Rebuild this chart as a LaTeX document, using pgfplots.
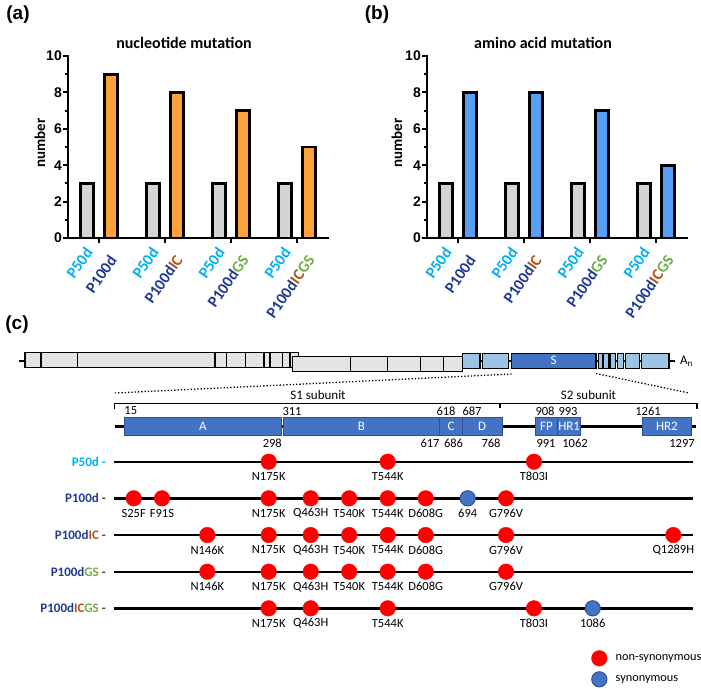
\documentclass[border=0pt]{standalone}
\usepackage{pgfplots}
\pgfplotsset{compat=1.18}
\usepackage{fontspec}
\setmainfont{Carlito}
\newfontfamily\arialfont{Liberation Sans}
\definecolor{lblue}{HTML}{00B0F0}
\definecolor{dblue}{HTML}{1F3A93}
\definecolor{brownc}{HTML}{B0531E}
\definecolor{greenc}{HTML}{70AD47}
\definecolor{barorange}{HTML}{FCA13C}
\definecolor{barblue}{HTML}{569EF8}
\definecolor{bargray}{HTML}{D4D4D4}
\definecolor{segray}{HTML}{E4E4E4}
\definecolor{sblue}{HTML}{4472C4}
\definecolor{lsblue}{HTML}{9DC3E6}
\definecolor{sbord}{HTML}{2F528F}
\definecolor{mutred}{HTML}{FF0000}
\newcommand{\fs}[1]{\fontsize{#1}{#1}\selectfont}
\pgfplotsset{
  barax/.style={
    scale only axis, width=260pt, height=182pt, anchor=south west,
    xmin=-0.47, xmax=3.47, ymin=0, ymax=10,
    axis lines=left, axis line style={-, line width=2.5pt, line cap=rect},
    xtick={0,1,2,3}, xticklabels={},
    ytick={0,2,...,10}, minor y tick num=1,
    tick align=outside, major tick length=5pt, minor tick length=3.5pt,
    tick style={black, line width=2pt},
    yticklabel style={font=\arialfont\bfseries\fs{14}, inner sep=1pt},
    /pgf/number format/assume math mode=true,
    clip=false,
  },
  barst/.style={ybar, bar width=13.5pt, draw=black, line width=2.7pt, line join=miter},
}
\tikzset{xlab/.style={rotate=55, anchor=east, font=\bfseries\fs{16}, inner sep=0pt}}
\newcommand{\glab}[3]{%
  \node[xlab, text=lblue] at ([shift={(2pt,-11pt)}]axis cs:#1,0) {P50d};
  \node[xlab] at ([shift={(2pt,-19pt)}]axis cs:#2,0) {#3};}
\newcommand{\vd}[3]{\draw[line width=1.3pt] (#1,#2) -- (#1,#3);}
\begin{document}
\begin{tikzpicture}
\useasboundingbox (0pt,0pt) rectangle (701pt,-688pt);
% panel labels and titles
\node[font=\arialfont\bfseries\fs{19}] at (18pt,-15pt) {(a)};
\node[font=\arialfont\bfseries\fs{19}] at (377pt,-15pt) {(b)};
\node[font=\arialfont\bfseries\fs{19}] at (17pt,-325pt) {(c)};
\node[font=\bfseries\fs{16}] at (184pt,-43pt) {nucleotide mutation};
\node[font=\bfseries\fs{16}] at (543pt,-43pt) {amino acid mutation};
\node[font=\bfseries\fs{15}, rotate=90] at (40pt,-143pt) {number};
\node[font=\bfseries\fs{15}, rotate=90] at (397pt,-143pt) {number};
% (a)
\begin{axis}[barax, at={(68pt,-238pt)}]
\addplot[barst, bar shift=-12pt, fill=bargray] coordinates {(0,3) (1,3) (2,3) (3,3)};
\addplot[barst, bar shift=12pt, fill=barorange] coordinates {(0,9) (1,8) (2,7) (3,5)};
\glab{-0.1818}{0.1818}{\textcolor{dblue}{P100d}}
\glab{0.8182}{1.1818}{\textcolor{dblue}{P100d}\textcolor{brownc}{IC}}
\glab{1.8182}{2.1818}{\textcolor{dblue}{P100d}\textcolor{greenc}{GS}}
\glab{2.8182}{3.1818}{\textcolor{dblue}{P100d}\textcolor{brownc}{IC}\textcolor{greenc}{GS}}
\end{axis}
% (b)
\begin{axis}[barax, at={(427pt,-238pt)}]
\addplot[barst, bar shift=-12pt, fill=bargray] coordinates {(0,3) (1,3) (2,3) (3,3)};
\addplot[barst, bar shift=12pt, fill=barblue] coordinates {(0,8) (1,8) (2,7) (3,4)};
\glab{-0.1818}{0.1818}{\textcolor{dblue}{P100d}}
\glab{0.8182}{1.1818}{\textcolor{dblue}{P100d}\textcolor{brownc}{IC}}
\glab{1.8182}{2.1818}{\textcolor{dblue}{P100d}\textcolor{greenc}{GS}}
\glab{2.8182}{3.1818}{\textcolor{dblue}{P100d}\textcolor{brownc}{IC}\textcolor{greenc}{GS}}
\end{axis}
% (c)
\begin{axis}[at={(0pt,-688pt)}, anchor=south west, scale only axis, width=701pt, height=688pt,
  xmin=0, xmax=701, ymin=0, ymax=688, y dir=reverse, hide axis, clip=false]
% genome
\draw[line width=2pt] (19,360.5) -- (675,360.5);
\draw[fill=segray, line width=1.3pt] (25,352.3) rectangle (298.3,367.3);
\vd{41}{352.3}{367.3}\vd{77.3}{352.3}{367.3}\vd{215}{352.3}{367.3}\vd{226.7}{352.3}{367.3}
\vd{245.7}{352.3}{367.3}\vd{264}{352.3}{367.3}\vd{270}{352.3}{367.3}\vd{282.7}{352.3}{367.3}\vd{290}{352.3}{367.3}
\draw[fill=segray, line width=1.3pt] (292.7,356.7) rectangle (462.3,371.7);
\vd{350.5}{356.7}{371.7}\vd{387.7}{356.7}{371.7}\vd{420.7}{356.7}{371.7}\vd{443.3}{356.7}{371.7}
\draw[fill=lsblue, line width=1.3pt] (462.3,353.3) rectangle (480,368.3);
\draw[fill=lsblue, line width=1.3pt] (482.3,353.3) rectangle (508.7,368.3);
\draw[fill=sblue, line width=1.3pt] (511.3,353.3) rectangle (596,368.3);
\node[text=white, font=\fs{13}] at (553.6,360.8) {S};
\draw[fill=lsblue, line width=1.3pt] (598.3,353.3) rectangle (602.3,368.3);
\draw[fill=lsblue, line width=1.3pt] (603.3,353.3) rectangle (608.3,368.3);
\draw[fill=lsblue, line width=1.3pt] (610,353.3) rectangle (615.7,368.3);
\draw[fill=lsblue, line width=1.3pt] (617.7,353.3) rectangle (623.3,368.3);
\draw[fill=lsblue, line width=1.3pt] (625.7,353.3) rectangle (639.3,368.3);
\draw[fill=lsblue, line width=1.3pt] (641.7,353.3) rectangle (669,368.3);
\node[anchor=west, font=\fs{13}, inner sep=0pt] at (680,361) {A\textsubscript{n}};
% zoom lines
\draw[dotted, line width=1.3pt] (511.7,374) -- (115,393);
\draw[dotted, line width=1.3pt] (596,373.5) -- (689,393);
% bracket
\draw[line width=1.4pt] (114.6,409) -- (114.6,403.5) -- (697,403.5) -- (697,409);
\draw[line width=1.4pt] (500,403.5) -- (500,408);
\node[font=\fs{13}] at (318,395) {S1 subunit};
\node[font=\fs{13}] at (588.5,395) {S2 subunit};
% domains
\draw[line width=3pt] (114.6,426.5) -- (696,426.5);
\draw[fill=sblue, draw=sbord, line width=0.8pt] (124.2,417.3) rectangle (281.5,435.7);
\draw[fill=sblue, draw=sbord, line width=0.8pt] (283.5,417.3) rectangle (439.6,435.7);
\draw[fill=sblue, draw=sbord, line width=0.8pt] (439.6,417.3) rectangle (462.3,435.7);
\draw[fill=sblue, draw=sbord, line width=0.8pt] (462.3,417.3) rectangle (502,435.7);
\draw[fill=sblue, draw=sbord, line width=0.8pt] (535.8,417.3) rectangle (557,435.7);
\draw[fill=sblue, draw=sbord, line width=0.8pt] (557.7,417.3) rectangle (580.8,435.7);
\draw[fill=sblue, draw=sbord, line width=0.8pt] (642.3,417.3) rectangle (691.5,435.7);
\begin{scope}[every node/.style={text=white, font=\fs{13}}]
\node at (202.8,426.5) {A};
\node at (361.5,426.5) {B};
\node at (451,426.5) {C};
\node at (482.1,426.5) {D};
\node at (546.4,426.5) {FP};
\node at (569.2,426.5) {HR1};
\node at (666.9,426.5) {HR2};
\end{scope}
\begin{scope}[every node/.style={font=\fs{12.5}}]
\node at (130.8,411) {15};
\node at (292,411) {311};
\node at (446,411) {618};
\node at (472,411) {687};
\node at (545,411) {908};
\node at (568,411) {993};
\node at (648,411) {1261};
\node at (272.3,443) {298};
\node at (430,443) {617};
\node at (453.5,443) {686};
\node at (491,443) {768};
\node at (546,443) {991};
\node at (575,443) {1062};
\node at (682,443) {1297};
\end{scope}
% rows
\draw[line width=2.4pt] (114,461.7) -- (692.7,461.7);
\draw[line width=2.4pt] (114,498.3) -- (692.7,498.3);
\draw[line width=2.4pt] (114,535) -- (692.7,535);
\draw[line width=2.4pt] (114,571.7) -- (692.7,571.7);
\draw[line width=2.4pt] (114,608.3) -- (692.7,608.3);
\begin{scope}[every node/.style={anchor=east, font=\bfseries\fs{13}, inner sep=0pt}]
\node at (106,461.7) {\textcolor{lblue}{P50d\ -}};
\node at (106,498.3) {\textcolor{dblue}{P100d}\ \textcolor{darkgray}{-}};
\node at (106,535) {\textcolor{dblue}{P100d}\textcolor{brownc}{IC}\ \textcolor{darkgray}{-}};
\node at (106,571.7) {\textcolor{dblue}{P100d}\textcolor{greenc}{GS}\ \textcolor{darkgray}{-}};
\node at (106,608.3) {\textcolor{dblue}{P100d}\textcolor{brownc}{IC}\textcolor{greenc}{GS}\ \textcolor{darkgray}{-}};
\end{scope}
\addplot[only marks, mark=*, mark size=7.8pt, mark options={fill=mutred, draw=mutred},
  nodes near coords, point meta=explicit symbolic,
  every node near coord/.style={anchor=center, yshift=-15pt, font=\fs{12.5}, text=black}]
  table[meta=l] {
x y l
268.7 461.7 N175K
387.7 461.7 T544K
534 461.7 T803I
133.7 498.3 S25F
162 498.3 F91S
268.7 498.3 N175K
310.7 498.3 Q463H
349.2 498.3 T540K
387.7 498.3 T544K
425.7 498.3 D608G
506 498.3 G796V
207.3 535 N146K
268.7 535 N175K
310.7 535 Q463H
349.2 535 T540K
387.7 535 T544K
425.7 535 D608G
506 535 G796V
673.3 535 Q1289H
207.3 571.7 N146K
268.7 571.7 N175K
310.7 571.7 Q463H
349.2 571.7 T540K
387.7 571.7 T544K
425.7 571.7 D608G
506 571.7 G796V
268.7 608.3 N175K
310.7 608.3 Q463H
387.7 608.3 T544K
534 608.3 T803I
};
\addplot[only marks, mark=*, mark size=7.6pt, mark options={fill=sblue, draw=sbord, line width=1pt},
  nodes near coords, point meta=explicit symbolic,
  every node near coord/.style={anchor=center, yshift=-15pt, font=\fs{12.5}, text=black}]
  table[meta=l] {
x y l
467.7 498.3 694
592.7 608.3 1086
};
% legend
\addplot[only marks, mark=*, mark size=7.8pt, mark options={fill=mutred, draw=mutred}] coordinates {(599.3,658.3)};
\addplot[only marks, mark=*, mark size=7.6pt, mark options={fill=sblue, draw=sbord, line width=1pt}] coordinates {(599.3,679.3)};
\node[anchor=west, font=\fs{12.3}, inner sep=0pt] at (615.5,658.3) {non-synonymous};
\node[anchor=west, font=\fs{12.3}, inner sep=0pt] at (615.5,679.3) {synonymous};
\end{axis}
\end{tikzpicture}
\end{document}
